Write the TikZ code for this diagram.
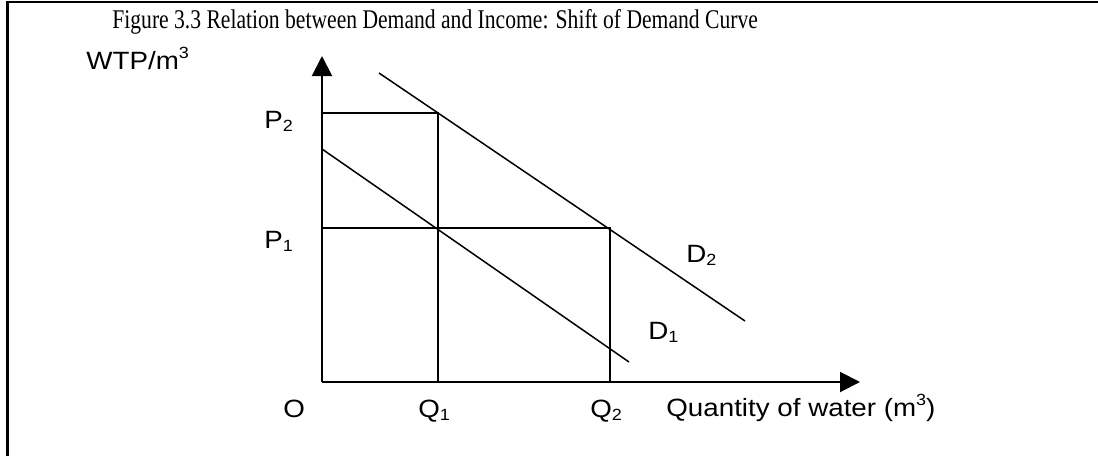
\documentclass[tikz,border=0pt]{standalone}
\usepackage{fontspec}
\setmainfont{Liberation Sans}
\newfontfamily\titlefont[FakeStretch=0.80]{Liberation Serif}
\newfontfamily\labfont[FakeStretch=1.11]{Liberation Sans}
\usetikzlibrary{arrows.meta}
\newcommand\mysub[1]{\raisebox{-0.13em}{\fontsize{8.1pt}{9pt}\selectfont #1}}
\newcommand\mysup[1]{\raisebox{0.42em}{\fontsize{8.1pt}{9pt}\selectfont #1}}
\tikzset{
  lab/.style={font=\labfont\fontsize{12.5pt}{15pt}\selectfont, inner sep=0pt, anchor=base west},
  ttl/.style={font=\titlefont\fontsize{13.5pt}{16pt}\selectfont, inner sep=0pt, anchor=base west},
  axis/.style={line width=1pt, -{Triangle[length=10pt,width=10pt]}},
  guide/.style={line width=0.75pt},
  demand/.style={line width=0.75pt},
  frame/.style={line width=1.2pt}
}
\begin{document}
\begin{tikzpicture}[x=0.5pt,y=-0.5pt]
\useasboundingbox (0,0) rectangle (1098,456);
% frame
\coordinate (fb) at (7.5,456);
\coordinate (ftl) at (7.5,2);
\coordinate (ftr) at (1098,2);
\draw[frame] (fb) -- (ftl) -- (ftr);
% title
\node[ttl] (title) at (112,28) {Figure 3.3 Relation between Demand and Income: Shift of Demand Curve};
% axes
\coordinate (O) at (322,382);
\coordinate (ytip) at (322,56);
\coordinate (xtip) at (860,382);
\draw[axis] (O) -- (ytip);
\draw[axis] (O) -- (xtip);
% guides
\coordinate (p2) at (322,113);
\coordinate (p1) at (322,228);
\coordinate (e2) at (438,113);
\coordinate (e1) at (438,228);
\coordinate (e3) at (610,228);
\coordinate (q1) at (438,382);
\coordinate (q2) at (610,382);
\draw[guide] (p2) -- (e2) -- (q1);
\draw[guide] (p1) -- (e3) -- (q2);
% demand curves
\coordinate (d1s) at (322,149);
\coordinate (d1e) at (629,362);
\coordinate (d2s) at (379,73);
\coordinate (d2e) at (745,321);
\draw[demand] (d1s) -- (d1e);
\draw[demand] (d2s) -- (d2e);
% labels
\node[lab] (wtp) at (86,69) {WTP/m\mysup{3}};
\node[lab] (lp2) at (264,128) {P\mysub{2}};
\node[lab] (lp1) at (264,248) {P\mysub{1}};
\node[lab] (lo) at (283,417) {O};
\node[lab] (lq1) at (418,417) {Q\mysub{1}};
\node[lab] (lq2) at (590,417) {Q\mysub{2}};
\node[lab] (lqty) at (666,416) {Quantity of water (m\mysup{3})};
\node[lab] (ld2) at (686,262) {D\mysub{2}};
\node[lab] (ld1) at (648,339) {D\mysub{1}};
\end{tikzpicture}
\end{document}
